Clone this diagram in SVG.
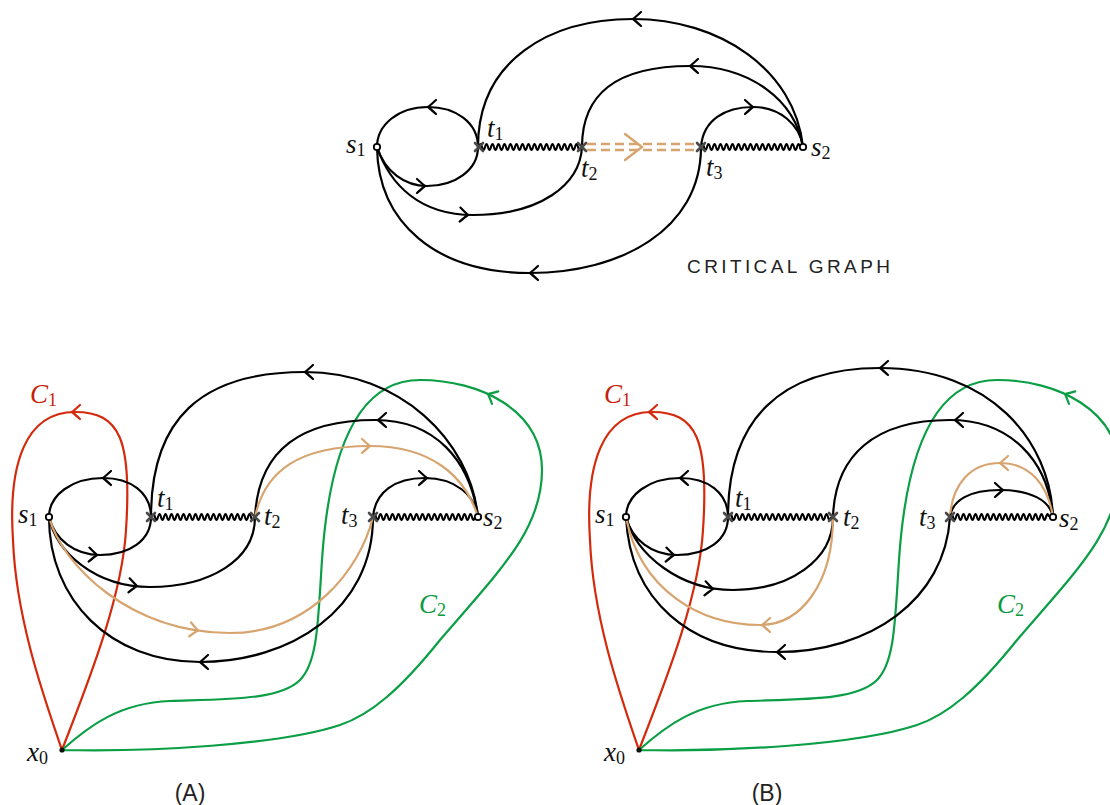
<svg xmlns="http://www.w3.org/2000/svg" width="1110" height="805" viewBox="0 0 1110 805">
<style>
.e{fill:none;stroke:#000;stroke-width:2.2;stroke-linecap:round}
.o{fill:none;stroke:#d7a46f;stroke-width:2.2;stroke-linecap:round}
.od{fill:none;stroke:#d7a46f;stroke-width:2.4;stroke-dasharray:9 5}
.r{fill:none;stroke:#d42a0c;stroke-width:2.2;stroke-linecap:round}
.g{fill:none;stroke:#0a9e45;stroke-width:2.2;stroke-linecap:round}
.w{fill:none;stroke:#000;stroke-width:2.1}
.x{fill:none;stroke:#4a4a4a;stroke-width:2.6;stroke-linecap:round}
.s{fill:#fff;stroke:#000;stroke-width:1.8}
.m{font-family:"Liberation Serif",serif;font-style:italic;font-size:27px;fill:#111}
.sub{font-style:normal;font-size:18px}
.cr{fill:#c81e0a}
.cg{fill:#0a9a40}
.cap{font-family:"Liberation Sans",sans-serif;font-size:19px;fill:#222}
</style>
<defs>
<path id="ah" d="M-8,-7 Q-2,-1.5 0,0 Q-2,1.5 -8,7"/>
<path id="tx" d="M-4,-4 L4,4 M-4,4 L4,-4"/>
</defs>

<!-- ===== Critical graph ===== -->
<g id="critical-graph">
 <g id="cg-connectors">
  <path class="e" d="M478,147 C478,122 455,107 428,107 C398,107 377,125 377,147"/>
  <path class="e" d="M377,147 C385,172 405,186 427,186 C455,186 478,170 478,147"/>
  <path class="e" d="M478,147 C478,60 550,19 633,19 C720,19 795,70 803,147"/>
  <path class="e" d="M582,147 C582,95 615,66 690,66 C750,66 795,100 803,147"/>
  <path class="e" d="M701,147 C703,120 725,107 753,107 C780,107 800,125 803,147"/>
  <path class="e" d="M377,147 C390,185 420,215 473,215 C540,215 580,185 582,147"/>
  <path class="e" d="M701,147 C701,230 620,273 530,273 C435,273 378,222 377,147"/>
  <use href="#ah" class="e" transform="translate(428,107) rotate(180)"/>
  <use href="#ah" class="e" transform="translate(425,186)"/>
  <use href="#ah" class="e" transform="translate(633,19) rotate(180)"/>
  <use href="#ah" class="e" transform="translate(690,66) rotate(180)"/>
  <use href="#ah" class="e" transform="translate(753,107)"/>
  <use href="#ah" class="e" transform="translate(468,215) rotate(3)"/>
  <use href="#ah" class="e" transform="translate(530,273) rotate(180)"/>
  <path class="w" d="M479,147 q1.5,-6 3,0 t3,0 t3,0 t3,0 t3,0 t3,0 t3,0 t3,0 t3,0 t3,0 t3,0 t3,0 t3,0 t3,0 t3,0 t3,0 t3,0 t3,0 t3,0 t3,0 t3,0 t3,0 t3,0 t3,0 t3,0 t3,0 t3,0 t3,0 t3,0 t3,0 t3,0 t3,0 t3,0 t3,0"/>
  <path class="w" d="M701,147 q1.5,-6 3,0 t3,0 t3,0 t3,0 t3,0 t3,0 t3,0 t3,0 t3,0 t3,0 t3,0 t3,0 t3,0 t3,0 t3,0 t3,0 t3,0 t3,0 t3,0 t3,0 t3,0 t3,0 t3,0 t3,0 t3,0 t3,0 t3,0 t3,0 t3,0 t3,0 t3,0 t3,0 t3,0"/>
  <path class="od" d="M587,144 H698 M587,150 H698"/>
  <path class="o" d="M625,134 L642,147 L625,160" style="stroke-width:2.4"/>
 </g>
 <g id="cg-s1"><circle class="s" cx="377" cy="147" r="3.2"/><text class="m" x="346" y="153">s<tspan class="sub" dy="3">1</tspan></text></g>
 <g id="cg-t1"><use href="#tx" class="x" transform="translate(479,147)"/><text class="m" x="487" y="137">t<tspan class="sub" dy="3">1</tspan></text></g>
 <g id="cg-t2"><use href="#tx" class="x" transform="translate(582,147)"/><text class="m" x="581" y="177">t<tspan class="sub" dy="3">2</tspan></text></g>
 <g id="cg-t3"><use href="#tx" class="x" transform="translate(701,147)"/><text class="m" x="706" y="176">t<tspan class="sub" dy="3">3</tspan></text></g>
 <g id="cg-s2"><circle class="s" cx="803" cy="147" r="3.2"/><text class="m" x="811" y="156">s<tspan class="sub" dy="3">2</tspan></text></g>
 <text id="cg-title" class="cap" x="687" y="273" textLength="203" lengthAdjust="spacing">CRITICAL GRAPH</text>
</g>

<!-- ===== Panel A ===== -->
<g id="panel-A">
 <g id="A-connectors">
  <path class="r" d="M62,750 C85,690 122,600 126,530 C132,440 120,412 75,412 C25,412 8,465 13,540 C16,620 45,700 62,750"/>
  <use href="#ah" class="r" transform="translate(72,412) rotate(180)"/>
  <path class="g" d="M62,750 C90,725 120,703 170,701 C230,699 280,700 300,680 C318,662 318,620 322,560 C328,470 350,380 420,380 C480,380 542,410 542,470 C542,530 500,570 440,640 C400,690 370,715 340,725 C280,745 150,752 62,750"/>
  <use href="#ah" class="g" transform="translate(488,394) rotate(207)"/>
  <path class="e" d="M151,517 C151,492 130,478 103,478 C72,478 49,495 49,517"/>
  <path class="e" d="M49,517 C55,540 75,555 100,555 C130,555 151,540 151,517"/>
  <path class="e" d="M151,517 C151,420 200,372 305,372 C400,372 470,440 478,517"/>
  <path class="e" d="M255,517 C258,455 295,420 375,420 C435,420 470,460 478,517"/>
  <path class="e" d="M373,517 C375,492 395,478 425,478 C455,478 475,495 478,517"/>
  <path class="e" d="M49,517 C56,552 95,587 150,587 C210,587 255,560 255,517"/>
  <path class="e" d="M373,517 C373,610 290,662 200,662 C110,662 49,600 49,517"/>
  <path class="o" d="M255,517 C265,470 300,446 370,446 C430,446 465,475 478,517"/>
  <path class="o" d="M49,517 C62,565 130,633 230,633 C310,633 360,570 373,517"/>
  <use href="#ah" class="e" transform="translate(103,478) rotate(180)"/>
  <use href="#ah" class="e" transform="translate(97,555) rotate(3)"/>
  <use href="#ah" class="e" transform="translate(305,372) rotate(180)"/>
  <use href="#ah" class="e" transform="translate(378,420) rotate(180)"/>
  <use href="#ah" class="e" transform="translate(427,478)"/>
  <use href="#ah" class="e" transform="translate(137,586) rotate(5)"/>
  <use href="#ah" class="e" transform="translate(200,662) rotate(180)"/>
  <use href="#ah" class="o" transform="translate(370,446)"/>
  <use href="#ah" class="o" transform="translate(198,630.5) rotate(8)"/>
  <path class="w" d="M152,517 q1.5,-6 3,0 t3,0 t3,0 t3,0 t3,0 t3,0 t3,0 t3,0 t3,0 t3,0 t3,0 t3,0 t3,0 t3,0 t3,0 t3,0 t3,0 t3,0 t3,0 t3,0 t3,0 t3,0 t3,0 t3,0 t3,0 t3,0 t3,0 t3,0 t3,0 t3,0 t3,0 t3,0 t3,0 t3,0"/>
  <path class="w" d="M373,517 q1.5,-6 3,0 t3,0 t3,0 t3,0 t3,0 t3,0 t3,0 t3,0 t3,0 t3,0 t3,0 t3,0 t3,0 t3,0 t3,0 t3,0 t3,0 t3,0 t3,0 t3,0 t3,0 t3,0 t3,0 t3,0 t3,0 t3,0 t3,0 t3,0 t3,0 t3,0 t3,0 t3,0 t3,0 t3,0"/>
 </g>
 <g id="A-C1"><text class="m cr" x="30" y="403">C<tspan class="sub" dy="3">1</tspan></text></g>
 <g id="A-C2"><text class="m cg" x="419" y="613">C<tspan class="sub" dy="3">2</tspan></text></g>
 <g id="A-s1"><circle class="s" cx="49" cy="517" r="3.2"/><text class="m" x="18" y="523">s<tspan class="sub" dy="3">1</tspan></text></g>
 <g id="A-t1"><use href="#tx" class="x" transform="translate(151,517)"/><text class="m" x="157" y="507">t<tspan class="sub" dy="3">1</tspan></text></g>
 <g id="A-t2"><use href="#tx" class="x" transform="translate(255,517)"/><text class="m" x="264" y="525">t<tspan class="sub" dy="3">2</tspan></text></g>
 <g id="A-t3"><use href="#tx" class="x" transform="translate(373,517)"/><text class="m" x="341" y="524">t<tspan class="sub" dy="3">3</tspan></text></g>
 <g id="A-s2"><circle class="s" cx="478" cy="517" r="3.2"/><text class="m" x="483" y="526">s<tspan class="sub" dy="3">2</tspan></text></g>
 <g id="A-x0"><circle cx="62" cy="750" r="2.6" fill="#111"/><text class="m" x="27" y="761">x<tspan class="sub" dy="3">0</tspan></text></g>
 <text id="A-label" class="cap" x="190" y="801" text-anchor="middle" style="font-size:23px">(A)</text>
</g>

<!-- ===== Panel B ===== -->
<g id="panel-B">
 <g id="B-connectors">
  <g transform="translate(577,0)">
   <path class="r" d="M62,750 C85,690 122,600 126,530 C132,440 120,412 75,412 C25,412 8,465 13,540 C16,620 45,700 62,750"/>
   <use href="#ah" class="r" transform="translate(72,412) rotate(180)"/>
   <path class="g" d="M62,750 C90,725 120,703 170,701 C230,699 280,700 300,680 C318,662 318,620 322,560 C328,470 350,380 420,380 C480,380 542,410 542,470 C542,530 500,570 440,640 C400,690 370,715 340,725 C280,745 150,752 62,750"/>
   <use href="#ah" class="g" transform="translate(488,394) rotate(207)"/>
  </g>
  <path class="e" d="M728,517 C728,492 707,478 680,478 C649,478 626,495 626,517"/>
  <path class="e" d="M626,517 C632,540 652,555 677,555 C707,555 728,540 728,517"/>
  <path class="e" d="M728,517 C728,420 780,368 880,368 C990,368 1050,440 1053,517"/>
  <path class="e" d="M833,517 C835,455 875,420 950,420 C1010,420 1048,460 1053,517"/>
  <path class="e" d="M950,517 C952,500 970,490 1000,490 C1030,490 1050,500 1053,517"/>
  <path class="e" d="M626,517 C636,555 680,590 733,590 C790,590 833,560 833,517"/>
  <path class="e" d="M950,517 C945,600 870,652 777,652 C690,652 630,600 626,517"/>
  <path class="o" d="M950,517 C952,485 970,463 1000,463 C1030,463 1048,485 1053,517"/>
  <path class="o" d="M833,517 C833,585 800,625 760,625 C700,625 640,590 626,517"/>
  <use href="#ah" class="e" transform="translate(680,478) rotate(180)"/>
  <use href="#ah" class="e" transform="translate(674,555) rotate(3)"/>
  <use href="#ah" class="e" transform="translate(880,368) rotate(180)"/>
  <use href="#ah" class="e" transform="translate(955,420) rotate(180)"/>
  <use href="#ah" class="e" transform="translate(1003,490)"/>
  <use href="#ah" class="e" transform="translate(713,589) rotate(5)"/>
  <use href="#ah" class="e" transform="translate(777,652) rotate(180)"/>
  <use href="#ah" class="o" transform="translate(1000,463) rotate(180)"/>
  <use href="#ah" class="o" transform="translate(762,625) rotate(180)"/>
  <path class="w" d="M729,517 q1.5,-6 3,0 t3,0 t3,0 t3,0 t3,0 t3,0 t3,0 t3,0 t3,0 t3,0 t3,0 t3,0 t3,0 t3,0 t3,0 t3,0 t3,0 t3,0 t3,0 t3,0 t3,0 t3,0 t3,0 t3,0 t3,0 t3,0 t3,0 t3,0 t3,0 t3,0 t3,0 t3,0 t3,0 t3,0"/>
  <path class="w" d="M950,517 q1.5,-6 3,0 t3,0 t3,0 t3,0 t3,0 t3,0 t3,0 t3,0 t3,0 t3,0 t3,0 t3,0 t3,0 t3,0 t3,0 t3,0 t3,0 t3,0 t3,0 t3,0 t3,0 t3,0 t3,0 t3,0 t3,0 t3,0 t3,0 t3,0 t3,0 t3,0 t3,0 t3,0 t3,0"/>
 </g>
 <g id="B-C1"><text class="m cr" x="604" y="403">C<tspan class="sub" dy="3">1</tspan></text></g>
 <g id="B-C2"><text class="m cg" x="997" y="613">C<tspan class="sub" dy="3">2</tspan></text></g>
 <g id="B-s1"><circle class="s" cx="626" cy="517" r="3.2"/><text class="m" x="595" y="523">s<tspan class="sub" dy="3">1</tspan></text></g>
 <g id="B-t1"><use href="#tx" class="x" transform="translate(728,517)"/><text class="m" x="735" y="507">t<tspan class="sub" dy="3">1</tspan></text></g>
 <g id="B-t2"><use href="#tx" class="x" transform="translate(833,517)"/><text class="m" x="843" y="526">t<tspan class="sub" dy="3">2</tspan></text></g>
 <g id="B-t3"><use href="#tx" class="x" transform="translate(950,517)"/><text class="m" x="919" y="526">t<tspan class="sub" dy="3">3</tspan></text></g>
 <g id="B-s2"><circle class="s" cx="1053" cy="517" r="3.2"/><text class="m" x="1059" y="527">s<tspan class="sub" dy="3">2</tspan></text></g>
 <g id="B-x0"><circle cx="639" cy="750" r="2.6" fill="#111"/><text class="m" x="604" y="761">x<tspan class="sub" dy="3">0</tspan></text></g>
 <text id="B-label" class="cap" x="767" y="801" text-anchor="middle" style="font-size:23px">(B)</text>
</g>
</svg>
